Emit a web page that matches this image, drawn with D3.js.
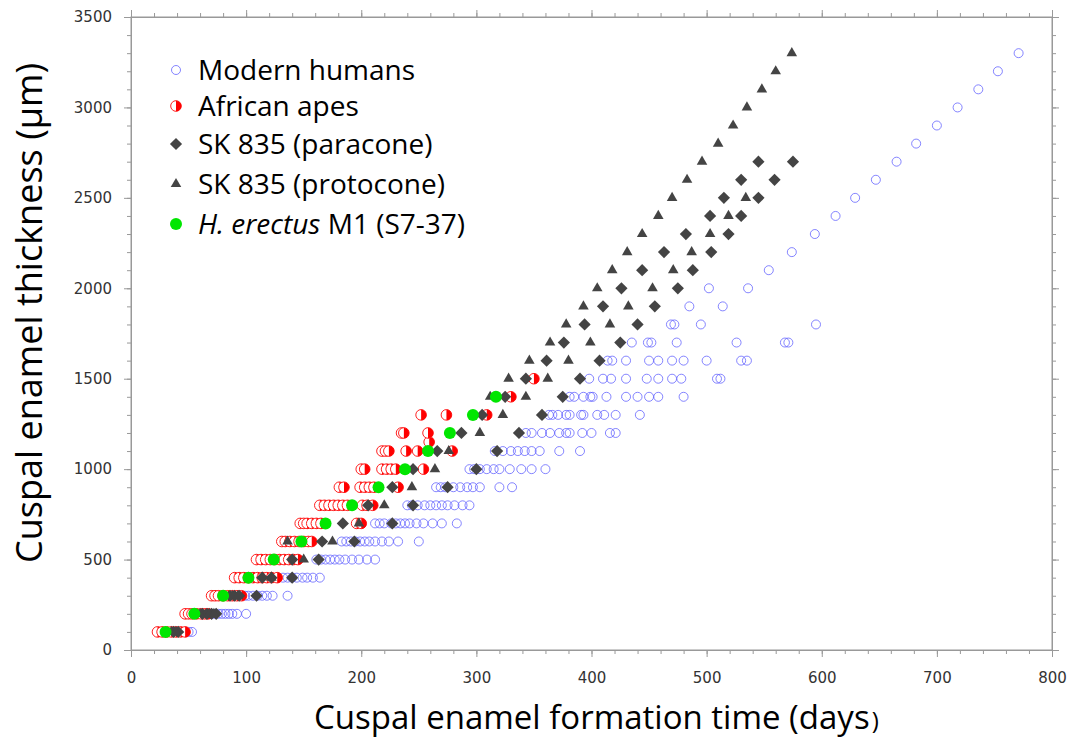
<!DOCTYPE html>
<html>
<head>
<meta charset="utf-8">
<script src="https://cdn.jsdelivr.net/npm/d3@7"></script>
<style>
  body { margin: 0; background: #fff; }
  .tick text { font-family: "DejaVu Sans", sans-serif; font-size: 15px; fill: #333; }
  .tick line, .domain { stroke: #999; }
  .title { font-family: "Open Sans", sans-serif; font-size: 36px; fill: #000; }
  .legend text { font-family: "Open Sans", sans-serif; font-size: 28px; fill: #000; }
</style>
</head>
<body>
<script>
//chart data: [days, thickness µm]
var modernHumans = [
  [41,100],[44,100],[47,100],[50,100],[53,100],
  [70,200],[73,200],[76,200],[79,200],[82,200],[85,200],[88,200],[92,200],[100,200],
  [99,300],[102,300],[106,300],[110,300],[114,300],[118,300],[123,300],[136,300],
  [132,400],[136,400],[140,400],[144,400],[149,400],[153,400],[158,400],[164,400],
  [161,500],[165,500],[169,500],[173,500],[177,500],[181,500],[186,500],[192,500],[198,500],[205,500],[212,500],
  [183,600],[187,600],[191,600],[195,600],[199,600],[203,600],[207,600],[212,600],[218,600],[224,600],[232,600],[250,600],
  [212,700],[216,700],[220,700],[226,700],[230,700],[234,700],[238,700],[242,700],[248,700],[254,700],[262,700],[270,700],[283,700],
  [240,800],[244,800],[249,800],[255,800],[260,800],[265,800],[270,800],[275,800],[281,800],[288,800],[294,800],
  [265,900],[269,900],[273,900],[280,900],[286,900],[292,900],[297,900],[303,900],[320,900],[331,900],
  [294,1000],[298,1000],[303,1000],[309,1000],[315,1000],[320,1000],[329,1000],[339,1000],[348,1000],[360,1000],
  [316,1100],[323,1100],[330,1100],[336,1100],[342,1100],[348,1100],[355,1100],[372,1100],[390,1100],
  [343,1200],[348,1200],[357,1200],[364,1200],[372,1200],[378,1200],[381,1200],[392,1200],[400,1200],[416,1200],[421,1200],
  [363,1300],[366,1300],[371,1300],[378,1300],[381,1300],[391,1300],[393,1300],[405,1300],[411,1300],[421,1300],[442,1300],
  [381,1400],[385,1400],[393,1400],[399,1400],[401,1400],[413,1400],[430,1400],[440,1400],[450,1400],[458,1400],[480,1400],
  [398,1500],[410,1500],[417,1500],[430,1500],[448,1500],[458,1500],[470,1500],[478,1500],[509,1500],[512,1500],
  [414,1600],[418,1600],[430,1600],[450,1600],[458,1600],[470,1600],[480,1600],[500,1600],[530,1600],[535,1600],
  [435,1700],[449,1700],[452,1700],[474,1700],[526,1700],[568,1700],[571,1700],
  [469,1800],[472,1800],[495,1800],[595,1800],
  [485,1900],[514,1900],
  [502,2000],[536,2000],
  [554,2100],[574,2200],[594,2300],[612,2400],[629,2500],[647,2600],[665,2700],
  [682,2800],[700,2900],[718,3000],[736,3100],[753,3200],[771,3300]
];

var africanApes = [
  [23,100],[27,100],[31,100],[35,100],[39,100],[43,100],[47,100],
  [47,200],[50,200],[53,200],[57,200],[61,200],[64,200],[67,200],
  [70,300],[73,300],[76,300],[80,300],[84,300],[88,300],[92,300],[96,300],
  [90,400],[94,400],[98,400],[102,400],[106,400],[110,400],[114,400],[118,400],[122,400],[127,400],
  [109,500],[113,500],[117,500],[121,500],[125,500],[129,500],[133,500],[137,500],[141,500],[145,500],
  [131,600],[134,600],[138,600],[142,600],[146,600],[150,600],[154,600],[157,600],
  [147,700],[150,700],[153,700],[157,700],[161,700],[165,700],[196,700],[200,700],
  [164,800],[168,800],[172,800],[176,800],[180,800],[184,800],[188,800],[201,800],[205,800],[210,800],
  [181,900],[185,900],[199,900],[203,900],[207,900],[211,900],[232,900],
  [200,1000],[203,1000],[218,1000],[222,1000],[226,1000],[230,1000],[254,1000],
  [218,1100],[221,1100],[224,1100],[239,1100],[249,1100],[279,1100],
  [259,1150],
  [235,1200],[237,1200],[258,1200],
  [252,1300],[274,1300],[309,1300],
  [330,1400],[350,1500]
];

var paracone = [
  [37,100],[41,100],
  [62,200],[66,200],[70,200],[74,200],
  [86,300],[90,300],[94,300],[109,300],
  [114,400],[122,400],[140,400],
  [140,500],[163,500],
  [166,600],[194,600],
  [184,700],[227,700],
  [206,800],[245,800],
  [227,900],[275,900],
  [245,1000],[300,1000],
  [266,1100],[318,1100],
  [287,1200],[337,1200],
  [305,1300],[357,1300],
  [325,1400],[375,1400],
  [343,1500],[390,1500],
  [361,1600],[407,1600],
  [376,1700],[425,1700],
  [394,1800],[440,1800],
  [410,1900],[455,1900],
  [426,2000],[475,2000],
  [444,2100],[488,2100],
  [463,2200],[504,2200],
  [482,2300],[519,2300],
  [503,2400],[530,2400],
  [515,2500],[545,2500],
  [530,2600],[559,2600],
  [545,2700],[575,2700]
];

var protocone = [
  [35,100],[39,100],
  [60,200],[68,200],[72,200],
  [88,300],[93,300],
  [122,400],
  [150,500],
  [136,600],[175,600],
  [198,700],
  [220,800],
  [244,900],
  [264,1000],
  [276,1100],
  [303,1200],
  [323,1300],
  [312,1400],[343,1400],
  [328,1500],[362,1500],
  [346,1600],[380,1600],
  [364,1700],[399,1700],
  [378,1800],[416,1800],
  [393,1900],[432,1900],
  [405,2000],[453,2000],
  [418,2100],[471,2100],
  [431,2200],[487,2200],
  [444,2300],[503,2300],
  [458,2400],[519,2400],
  [470,2500],[534,2500],
  [483,2600],[496,2700],[510,2800],[523,2900],
  [535,3000],[548,3100],[560,3200],[574,3300]
];

var erectus = [
  [30,100],[55,200],[80,300],[102,400],[124,500],[148,600],[169,700],
  [192,800],[215,900],[238,1000],[258,1100],[277,1200],[297,1300],[317,1400]
];

var legendLabels = ["Modern humans", "African apes", "SK 835 (paracone)", "SK 835 (protocone)", "M1 (S7-37)"];

var width = 1085,
    height = 739;

var svg = d3.select("body")
  .append("svg")
  .attr("width", width)
  .attr("height", height);

var x = d3.scaleLinear().domain([0, 800]).range([131, 1052]);
var y = d3.scaleLinear().domain([0, 3500]).range([650, 17]);

//frame
svg.append("rect")
  .attr("x", x(0)).attr("y", y(3500))
  .attr("width", x(800) - x(0)).attr("height", y(0) - y(3500))
  .attr("fill", "none").attr("stroke", "#999");

//minor ticks on all four sides
var xMinor = d3.range(0, 801, 20),
    yMinor = d3.range(0, 3501, 100);
svg.append("g").attr("transform", "translate(0," + y(0) + ")")
  .call(d3.axisBottom(x).tickValues(xMinor).tickSize(4).tickSizeOuter(0).tickFormat(""));
svg.append("g").attr("transform", "translate(0," + y(3500) + ")")
  .call(d3.axisTop(x).tickValues(xMinor).tickSize(4).tickSizeOuter(0).tickFormat(""));
svg.append("g").attr("transform", "translate(" + x(0) + ",0)")
  .call(d3.axisLeft(y).tickValues(yMinor).tickSize(4).tickSizeOuter(0).tickFormat(""));
svg.append("g").attr("transform", "translate(" + x(800) + ",0)")
  .call(d3.axisRight(y).tickValues(yMinor).tickSize(4).tickSizeOuter(0).tickFormat(""));

//major ticks
svg.append("g").attr("transform", "translate(0," + y(0) + ")")
  .call(d3.axisBottom(x).tickValues(d3.range(0, 801, 100)).tickSize(7).tickSizeOuter(0)
    .tickPadding(15).tickFormat(d3.format("d")));
svg.append("g").attr("transform", "translate(0," + y(3500) + ")")
  .call(d3.axisTop(x).tickValues(d3.range(0, 801, 100)).tickSize(7).tickSizeOuter(0).tickFormat(""));
svg.append("g").attr("transform", "translate(" + x(0) + ",0)")
  .call(d3.axisLeft(y).tickValues(d3.range(0, 3501, 500)).tickSize(7).tickSizeOuter(0)
    .tickPadding(12).tickFormat(d3.format("d")));
svg.append("g").attr("transform", "translate(" + x(800) + ",0)")
  .call(d3.axisRight(y).tickValues(d3.range(0, 3501, 500)).tickSize(7).tickSizeOuter(0).tickFormat(""));

//axis titles
var xTitle = svg.append("text")
  .attr("class", "title")
  .attr("x", 314).attr("y", 729)
  .style("font-size", "33px")
  .text("Cuspal enamel formation time (days");
var xTitleEnd = 314 + xTitle.node().getComputedTextLength();
svg.append("text")
  .attr("class", "title")
  .attr("x", xTitleEnd + 2).attr("y", 729)
  .style("font-size", "24px")
  .text(")");

svg.append("text")
  .attr("class", "title")
  .attr("transform", "translate(42,313) rotate(-90)")
  .attr("text-anchor", "middle")
  .attr("textLength", 500)
  .attr("lengthAdjust", "spacingAndGlyphs")
  .text("Cuspal enamel thickness (µm)");

//symbol shapes
var diamond = d3.symbol().type(d3.symbolDiamond2).size(95)();
var triangle = d3.symbol().type(d3.symbolTriangle2).size(80)();
var halfArc = d3.arc()({ innerRadius: 0, outerRadius: 5.3, startAngle: 0, endAngle: Math.PI });

function drawHuman(sel) {
  sel.append("circle").attr("r", 4.5)
    .attr("fill", "none").attr("stroke", "#5c5cff").attr("stroke-opacity", 0.75).attr("stroke-width", 1);
}
function drawApe(sel) {
  sel.append("circle").attr("r", 5.3)
    .attr("fill", "#fff").attr("stroke", "#ff2020").attr("stroke-width", 1);
  sel.append("path").attr("d", halfArc).attr("fill", "#ff0000");
}
function drawDiamond(sel) {
  sel.append("path").attr("d", diamond).attr("fill", "#444");
}
function drawTriangle(sel) {
  sel.append("path").attr("d", triangle).attr("fill", "#444");
}
function drawErectus(sel) {
  sel.append("circle").attr("r", 6).attr("fill", "#00e600");
}

function plotSeries(data, drawer, cls) {
  svg.append("g").attr("class", cls)
    .selectAll("g")
    .data(data)
    .enter()
    .append("g")
    .attr("transform", function(d) { return "translate(" + x(d[0]) + "," + y(d[1]) + ")"; })
    .call(drawer);
}

plotSeries(modernHumans, drawHuman, "humans");
plotSeries(africanApes, drawApe, "apes");
plotSeries(paracone, drawDiamond, "paracone");
plotSeries(protocone, drawTriangle, "protocone");
plotSeries(erectus, drawErectus, "erectus");

//legend
var legendY = [70, 106, 144, 184, 224];
var drawers = [drawHuman, drawApe, drawDiamond, drawTriangle, drawErectus];
var legend = svg.append("g").attr("class", "legend");
legendLabels.forEach(function(label, i) {
  var g = legend.append("g").attr("transform", "translate(0," + legendY[i] + ")");
  g.append("g").attr("transform", "translate(176,0)").call(drawers[i]);
  var t = g.append("text").attr("x", 198).attr("y", 10);
  if (i == 4) {
    t.append("tspan").style("font-style", "italic").text("H. erectus");
    t.append("tspan").text(" " + label);
  } else {
    t.text(label);
  }
});
</script>
</body>
</html>
